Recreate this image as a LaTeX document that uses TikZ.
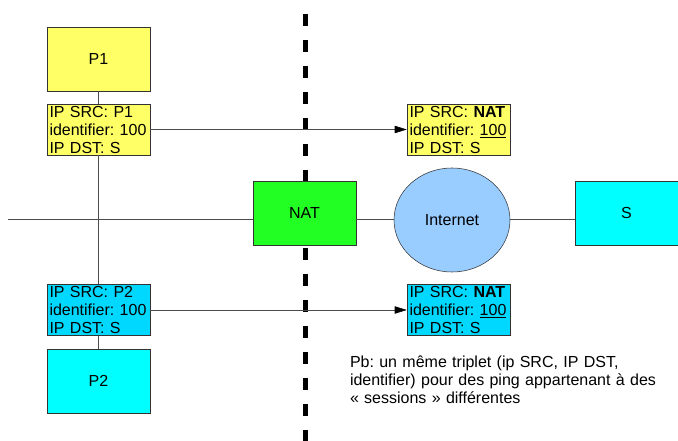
\documentclass[tikz,border=0pt]{standalone}
\usepackage{fontspec}
\setmainfont{Liberation Sans}
\usepackage{tikz}
\usetikzlibrary{shapes.geometric, arrows, arrows.meta}
\definecolor{hostyellow}{HTML}{FFFF66}
\definecolor{natgreen}{HTML}{22FF22}
\definecolor{hostcyan}{HTML}{00FFFF}
\definecolor{pktcyan}{HTML}{00D8FF}
\definecolor{cloudblue}{HTML}{99CCFF}
\tikzstyle{host} = [rectangle, minimum width=77.25pt, minimum height=48pt, text centered, draw=black!80, fill=hostyellow]
\tikzstyle{packet} = [rectangle, text width=73.5pt, inner xsep=1.875pt, inner ysep=0pt, minimum height=38.25pt, align=left, draw=black!80, fill=hostyellow]
\tikzstyle{cloud} = [ellipse, minimum width=87pt, minimum height=78pt, text centered, draw=black!80, fill=cloudblue]
\tikzstyle{note} = [inner sep=0pt, text width=240pt, align=left, anchor=north west]
\tikzstyle{wire} = [draw=black!70]
\tikzstyle{arrow} = [draw=black!70, -{Triangle[length=9pt,width=5.5pt,black]}]
\tikzstyle{border} = [line width=3.75pt, dash pattern=on 9pt off 10.5pt]

\begin{document}
\begin{tikzpicture}[x=0.75pt, y=-0.75pt, font=\fontsize{12}{13.5}\selectfont\frenchspacing]
\useasboundingbox (0,0) rectangle (678,441);
% frontiere prive / public
\draw [border] (305,14) -- (305,441);

\node (p1) [host] at (98.5,59) {P1};
\node (pk1) [packet, below of=p1, node distance=52.875pt] {IP SRC: P1\\identifier: 100\\IP DST: S};
\node (pk2) [packet, fill=pktcyan, below of=pk1, node distance=135.375pt] {IP SRC: P2\\identifier: 100\\IP DST: S};
\node (p2) [host, fill=hostcyan, below of=pk2, node distance=53.25pt] {P2};
\node (nat) [host, fill=natgreen, right of=pk1, node distance=154.5pt, yshift=-62.625pt] {NAT};
\node (inet) [cloud, right of=nat, node distance=110.625pt, yshift=-5.25pt] {Internet};
\node (s) [host, fill=hostcyan, right of=nat, node distance=241.5pt] {S};
\node (npk1) [packet, right of=pk1, node distance=270pt] {IP SRC: \textbf{NAT}\\identifier: \underline{100}\\IP DST: S};
\node (npk2) [packet, fill=pktcyan, right of=pk2, node distance=270pt] {IP SRC: \textbf{NAT}\\identifier: \underline{100}\\IP DST: S};
\node (pb) [note] at ([xshift=-42.75pt, yshift=-15pt]npk2.south west) {Pb: un même triplet (ip SRC, IP DST,\\identifier) pour des ping appartenant à des\\« sessions » différentes};

% reseau local
\coordinate (lan) at (8,219);
\draw [wire] (lan) -- (lan -| nat.west);
\draw [wire] (lan -| nat.east) -- (lan -| inet.west);
\draw [wire] (lan -| inet.east) -- (lan -| s.west);
\draw [wire] (p1) -- (pk1);
\draw [wire] (pk1) -- (pk2);
\draw [wire] (pk2) -- (p2);

\draw [arrow] (pk1) -- (npk1);
\draw [arrow] (pk2) -- (npk2);
\end{tikzpicture}
\end{document}
